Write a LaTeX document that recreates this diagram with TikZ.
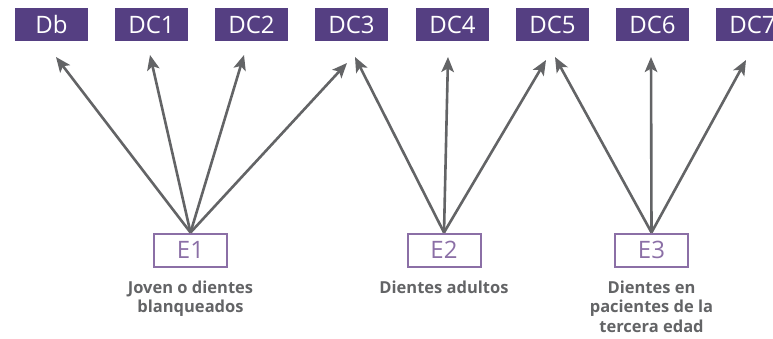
\documentclass[tikz,border=0pt]{standalone}
\usepackage{fontspec}
\setmainfont{Open Sans}
\usetikzlibrary{arrows.meta}
\definecolor{dpurple}{HTML}{553F82}
\definecolor{lpurple}{HTML}{8B6FA6}
\definecolor{ggray}{HTML}{636466}
\begin{document}
\begin{tikzpicture}[x=1pt,y=-1pt,
  dbox/.style={fill=dpurple,text=white,minimum width=73pt,minimum height=33pt,inner sep=0pt,font=\fontsize{24}{26}\selectfont},
  ebox/.style={draw=lpurple,line width=2pt,text=lpurple,minimum width=73pt,minimum height=33pt,inner sep=0pt,font=\fontsize{24}{26}\selectfont},
  lbl/.style={text=ggray,font=\bfseries\fontsize{16.5}{19.5}\selectfont,align=center,anchor=north},
  arr/.style={draw=ggray,line width=2.6pt,-{Stealth[length=15pt,width=12.5pt,inset=3.5pt]}}]
\useasboundingbox (0,0) rectangle (773,339);
\node[dbox] (db) at (51.5,24.5) {Db};
\node[dbox] (dc1) at (151.5,24.5) {DC1};
\node[dbox] (dc2) at (251.5,24.5) {DC2};
\node[dbox] (dc3) at (351.5,24.5) {DC3};
\node[dbox] (dc4) at (452.5,24.5) {DC4};
\node[dbox] (dc5) at (552.5,24.5) {DC5};
\node[dbox] (dc6) at (652.5,24.5) {DC6};
\node[dbox] (dc7) at (752.5,24.5) {DC7};
\node[ebox] (e1) at (190.5,250) {E1};
\node[ebox] (e2) at (444,250) {E2};
\node[ebox] (e3) at (651.5,250) {E3};
\node[lbl] (l1) at (190.5,277) {Joven o dientes\\blanqueados};
\node[lbl] (l2) at (444,277) {Dientes adultos};
\node[lbl] (l3) at (651.5,277) {Dientes en\\pacientes de la\\tercera edad};
\coordinate (t0) at (56,57);
\coordinate (t1) at (150,55);
\coordinate (t2) at (244,55);
\coordinate (t3a) at (347,63);
\coordinate (t3b) at (355,57);
\coordinate (t4) at (448,57);
\coordinate (t5a) at (546,60);
\coordinate (t5b) at (555,57);
\coordinate (t6) at (651,57);
\coordinate (t7) at (746,60);
\foreach \t in {t0,t1,t2,t3a} \draw[arr] (e1.north) -- (\t);
\foreach \t in {t3b,t4,t5a} \draw[arr] (e2.north) -- (\t);
\foreach \t in {t5b,t6,t7} \draw[arr] (e3.north) -- (\t);
\end{tikzpicture}
\end{document}
